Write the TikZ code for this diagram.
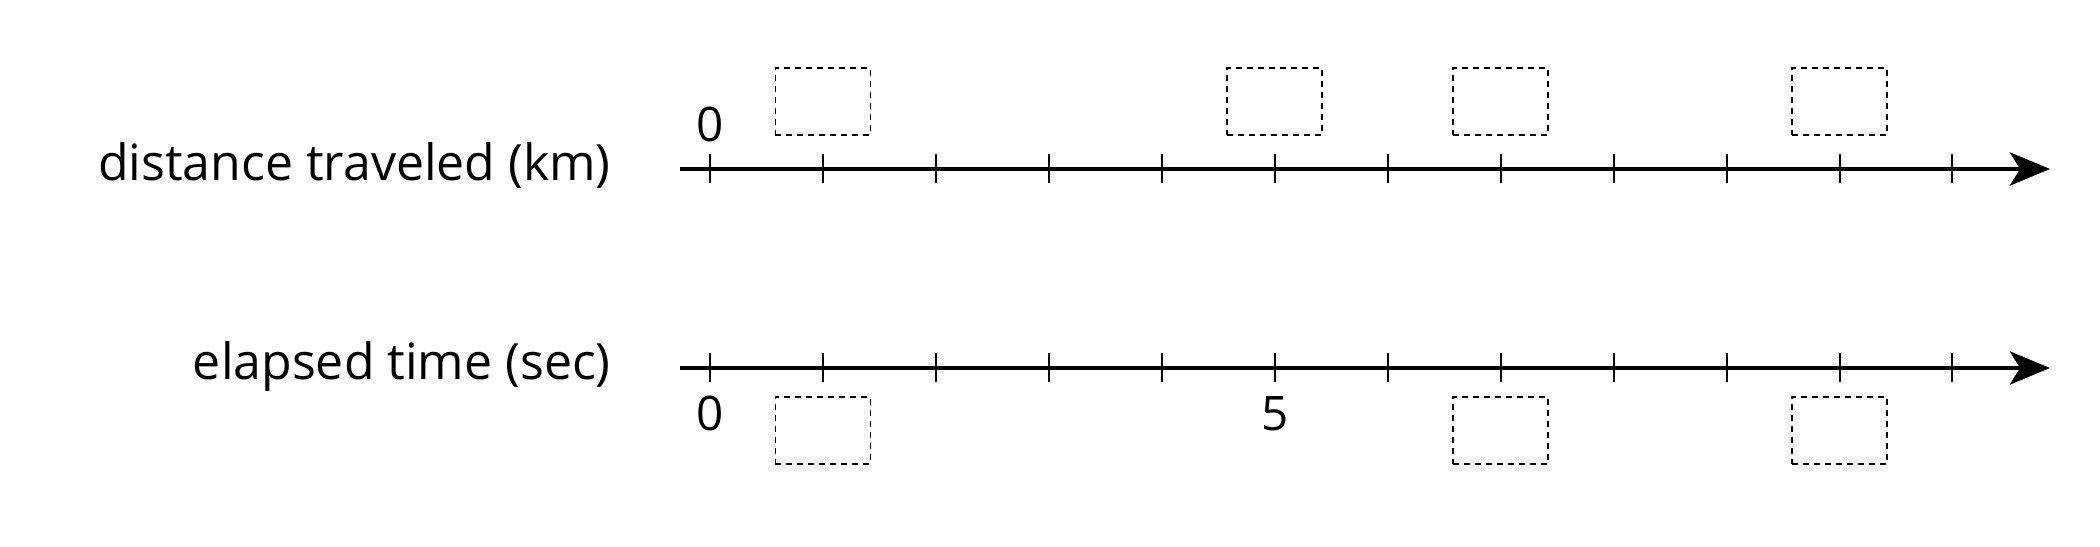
\documentclass[tikz,border=0pt]{standalone}
\usepackage{fontspec}
\setmainfont{Open Sans}
\usetikzlibrary{arrows.meta}
\begin{document}
\begin{tikzpicture}[x=1pt,y=1pt,
  axisline/.style={line width=4.3pt,-{Stealth[length=40pt,width=33pt,inset=10pt]}},
  tickmark/.style={line width=2pt},
  answerbox/.style={draw,dashed,dash pattern=on 6pt off 5pt,line width=1.6pt,minimum width=95pt,minimum height=67pt,inner sep=0pt},
  lbl/.style={font=\fontsize{47.6}{57}\selectfont,inner sep=0pt},
  axlbl/.style={font=\fontsize{50}{60}\selectfont,inner sep=0pt,anchor=base east}]
\useasboundingbox (0,0) rectangle (2100,546);
% top axis
\coordinate (ta) at (680,377);
\coordinate (tb) at (2050,377);
\draw[axisline] (ta) -- (tb);
\foreach \k in {0,...,11}{
  \draw[tickmark] (710+112.95*\k,362.5) -- (710+112.95*\k,391.5);
}
% bottom axis
\coordinate (ba) at (680,178);
\coordinate (bb) at (2050,178);
\draw[axisline] (ba) -- (bb);
\foreach \k in {0,...,11}{
  \draw[tickmark] (710+112.95*\k,163.5) -- (710+112.95*\k,192.5);
}
% labels
\node[axlbl] (dist) at (611,365) {distance traveled (km)};
\node[axlbl] (time) at (611,166) {elapsed time (sec)};
\node[lbl,anchor=base] (tz) at (710,404) {0};
\node[lbl,anchor=base] (bz) at (710,115) {0};
\node[lbl,anchor=base] (bf) at (1274.75,115) {5};
% top boxes
\node[answerbox] (t1) at (822.95,444.6) {};
\node[answerbox] (t5) at (1274.75,444.6) {};
\node[answerbox] (t7) at (1500.65,444.6) {};
\node[answerbox] (t10) at (1839.5,444.6) {};
% bottom boxes
\node[answerbox] (b1) at (822.95,115.5) {};
\node[answerbox] (b7) at (1500.65,115.5) {};
\node[answerbox] (b10) at (1839.5,115.5) {};
\end{tikzpicture}
\end{document}
